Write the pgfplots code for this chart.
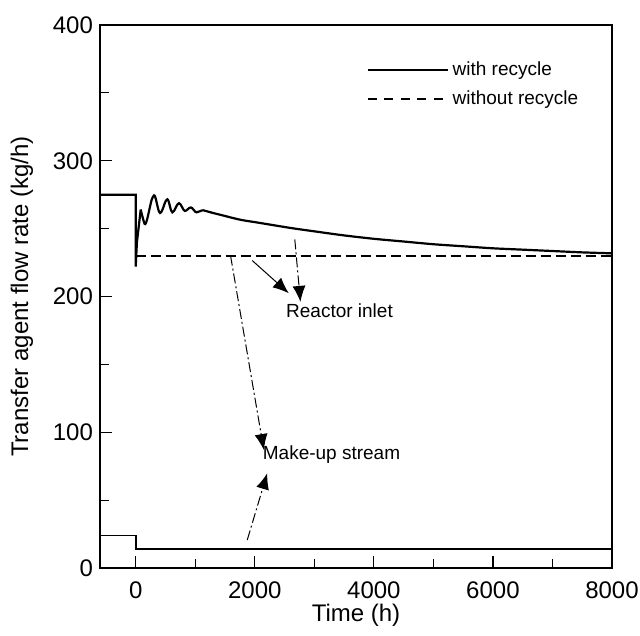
\documentclass[border=0pt]{standalone}
\usepackage{fontspec}
\setmainfont{Liberation Sans}
\usepackage{pgfplots}
\pgfplotsset{compat=1.18}
\usetikzlibrary{arrows.meta}
\begin{document}
\begin{tikzpicture}
\begin{axis}[
  scale only axis,
  width=256pt, height=271.5pt,
  xmin=-600, xmax=8000, ymin=0, ymax=400,
  xtick={0,2000,4000,6000,8000},
  minor xtick={1000,3000,5000,7000},
  ytick={0,100,200,300,400},
  minor ytick={50,150,250,350},
  xtick pos=bottom, ytick pos=left,
  tick align=inside,
  major tick length=6pt, minor tick length=4.5pt,
  axis line style={line width=0.8pt},
  every tick/.style={black, line width=0.6pt},
  /pgf/number format/assume math mode=true,
  scaled x ticks=false,
  xticklabel style={font=\fontsize{12}{14}\selectfont, /pgf/number format/1000 sep={}, yshift=-3.5pt},
  yticklabel style={font=\fontsize{12}{14}\selectfont},
  xlabel={Time (h)},
  ylabel={Transfer agent flow rate (kg/h)},
  xlabel style={font=\fontsize{12}{14}\selectfont, at={(axis description cs:0.5,0)}, anchor=center, yshift=-23.5pt},
  ylabel style={font=\fontsize{12}{14}\selectfont, at={(axis description cs:-0.1523,0.5)}, anchor=center},
  legend style={at={(rel axis cs:0.52,0.94)}, anchor=north west, draw=none, fill=none,
    font=\fontsize{9.5}{11}\selectfont, row sep=2pt, inner sep=0pt},
  legend cell align=left,
  legend image code/.code={\draw[#1] (0pt,0pt) -- (40pt,0pt);},
]
% with recycle, reactor inlet
\addplot[black, line width=1.1pt, forget plot] coordinates {(-600,275) (0,275) (0,222) (20,240) (84,264)};
\addplot[black, line width=1.1pt, smooth, forget plot] coordinates {
(84,264) (150,253.5) (190,256.6) (229,264) (269,271.4) (308,274.5) (333,272.6) (358,268) (384,263.4)
(409,261.5) (440,263) (470,266.5) (500,270) (531,271.6) (552,270.2) (573,266.8) (594,263.4)
(615,262) (643,263) (671,265.4) (699,267.7) (727,268.7) (752,267.9) (778,265.9) (803,263.9)
(828,263) (852,263.4) (875,264.3) (899,265.2) (923,265.6) (948,265.1) (973,263.8) (998,262.5)
(1023,262) (1051,262.4) (1079,262.8) (1107,263.3) (1135,263.5) (1258,262) (1482,259.5) (1762,256.5)
(2042,254.5) (2600,250.5) (3000,248) (3500,245) (4000,242.5) (4500,240.5) (5000,238.5)
(5500,237) (6000,235.5) (6500,234.5) (7000,233.5) (7500,232.5) (8000,231.8)};
% without recycle
\addplot[black, line width=1.1pt, dash pattern=on 5pt off 2.5pt, forget plot] coordinates {(0,230) (8000,230)};
% make-up stream with recycle
\addplot[black, line width=0.8pt, forget plot] coordinates {(-600,24) (0,24) (0,14) (8000,14)};

\addlegendimage{black, line width=1pt}
\addlegendentry{with recycle}
\addlegendimage{black, line width=0.8pt, dash pattern=on 4.5pt off 3.8pt}
\addlegendentry{without recycle}

% annotations
\draw[line width=0.5pt, dash pattern=on 5pt off 1.5pt on 1pt off 1.5pt, -{Latex[length=8pt,width=6.5pt]}] (axis cs:2672,242) -- (axis cs:2767,196);
\draw[line width=0.5pt, -{Latex[length=8pt,width=6.5pt]}] (axis cs:1957,226.5) -- (axis cs:2571,202.4);
\draw[line width=0.5pt, dash pattern=on 5pt off 1.5pt on 1pt off 1.5pt, -{Latex[length=8pt,width=6.5pt]}] (axis cs:1593,230) -- (axis cs:2152,86.9);
\draw[line width=0.5pt, dash pattern=on 5pt off 1.5pt on 1pt off 1.5pt, -{Latex[length=8pt,width=6.5pt]}] (axis cs:1873,20.6) -- (axis cs:2209,69.8);
\node[font=\fontsize{9.5}{11}\selectfont] at (axis cs:3423,189.4) {Reactor inlet};
\node[font=\fontsize{9.5}{11}\selectfont] at (axis cs:3289,83.3) {Make-up stream};
\end{axis}
\pgfresetboundingbox
\path[use as bounding box] ([xshift=-50pt,yshift=-33.5pt]current axis.south west) rectangle ++(320pt,317.5pt);
\end{tikzpicture}
\end{document}
